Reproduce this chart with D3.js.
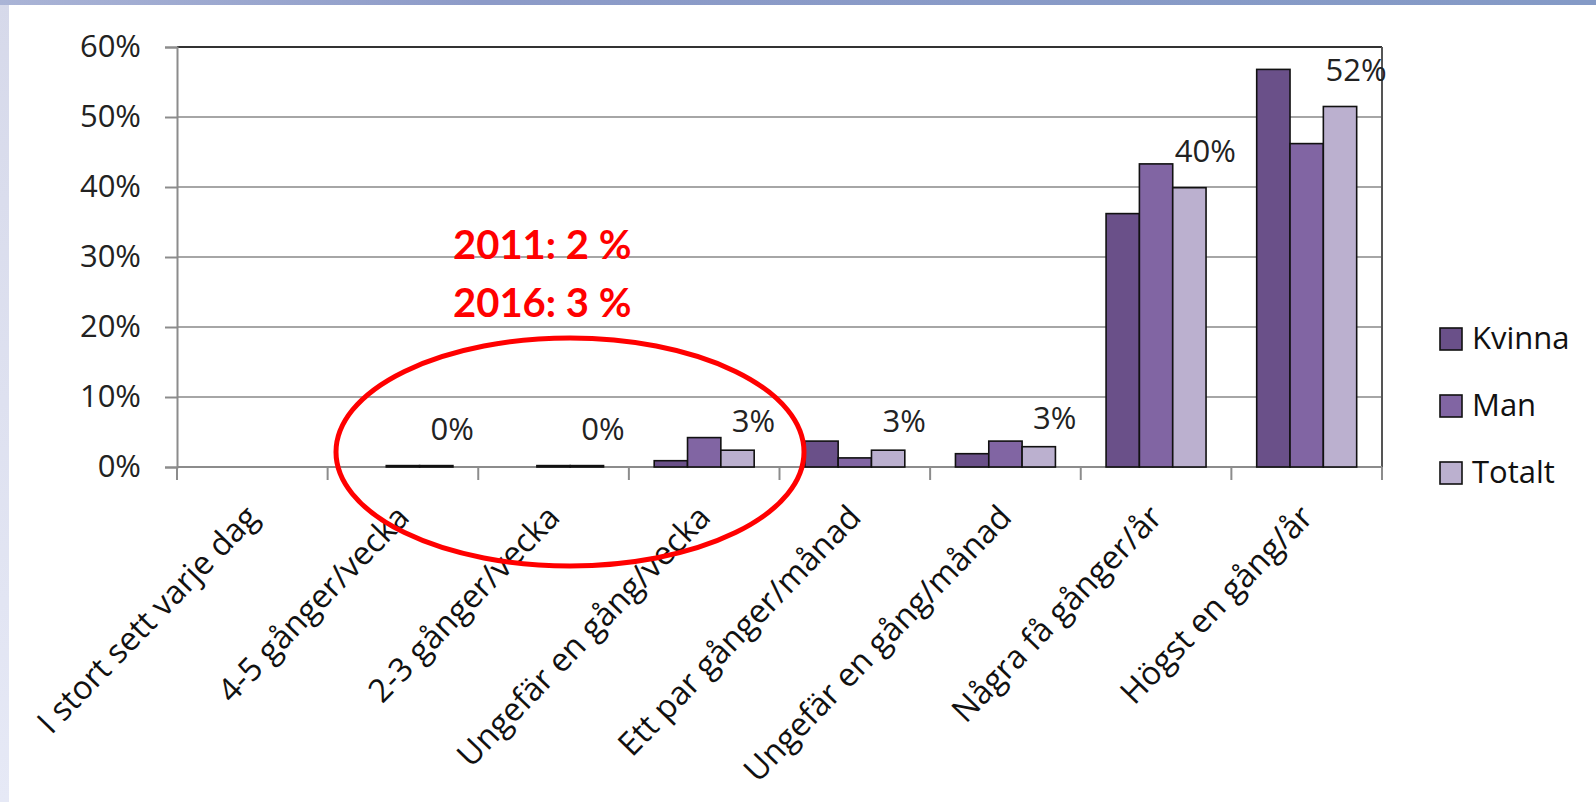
<!DOCTYPE html>
<html>
<head>
<meta charset="utf-8">
<script src="https://cdn.jsdelivr.net/npm/d3@7"></script>
<style>
  body { margin: 0; background: #fff; }
  svg { display: block; }
</style>
</head>
<body>
<svg></svg>
<script>
var categories = ["I stort sett varje dag", "4-5 gånger/vecka", "2-3 gånger/vecka",
                  "Ungefär en gång/vecka", "Ett par gånger/månad", "Ungefär en gång/månad",
                  "Några få gånger/år", "Högst en gång/år"];
var seriesNames = ["Kvinna", "Man", "Totalt"];
var kvinna = [0, 0, 0, 0.9, 3.7, 1.9, 36.2, 56.8];
var man    = [0, 0.2, 0.2, 4.2, 1.3, 3.7, 43.3, 46.2];
var totalt = [0, 0.2, 0.2, 2.4, 2.4, 2.9, 39.9, 51.5];
var totalLabels = ["", "0%", "0%", "3%", "3%", "3%", "40%", "52%"];
var yTicks = [0, 10, 20, 30, 40, 50, 60];
var notes = ["2011: 2 %", "2016: 3 %"];

var colors = ["#6a5089", "#8165a3", "#bbb0cf"];
var font = "'Open Sans', sans-serif";

var w = 1596, h = 802;
var plotL = 177, plotR = 1382, plotT = 47, plotB = 467;

var svg = d3.select("svg").attr("width", w).attr("height", h);

// slide background bits
var defs = svg.append("defs");
var g1 = defs.append("linearGradient").attr("id", "topbar");
g1.append("stop").attr("offset", "0").attr("stop-color", "#aab4d6");
g1.append("stop").attr("offset", "0.3").attr("stop-color", "#8d9bc8");
g1.append("stop").attr("offset", "1").attr("stop-color", "#849ac6");
var g2 = defs.append("linearGradient").attr("id", "leftbar")
    .attr("x1", 0).attr("y1", 0).attr("x2", 0).attr("y2", 1);
g2.append("stop").attr("offset", "0").attr("stop-color", "#d6d9ea");
g2.append("stop").attr("offset", "1").attr("stop-color", "#e6e9f6");

svg.append("rect").attr("width", w).attr("height", h).attr("fill", "#fff");
svg.append("rect").attr("x", 0).attr("y", 0).attr("width", 9).attr("height", h).attr("fill", "url(#leftbar)");
svg.append("rect").attr("x", 0).attr("y", 0).attr("width", w).attr("height", 5).attr("fill", "url(#topbar)");

var data = categories.map(function(c, i) {
    return { cat: c, values: [kvinna[i], man[i], totalt[i]], label: totalLabels[i] };
});

var x = d3.scaleBand().domain(categories).range([plotL, plotR]);
var xs = d3.scaleBand().domain(seriesNames).range([0, x.bandwidth()]).paddingOuter(0.76);
var y = d3.scaleLinear().domain([0, 60]).range([plotB, plotT]);

// gridlines
svg.selectAll(".grid")
    .data(yTicks.slice(1, -1))
    .enter()
    .append("line")
    .attr("x1", plotL).attr("x2", plotR)
    .attr("y1", function(d) { return y(d); })
    .attr("y2", function(d) { return y(d); })
    .attr("stroke", "#a6a6a6")
    .attr("stroke-width", 2);

// frame top + right
svg.append("line").attr("x1", plotL).attr("x2", plotR).attr("y1", plotT).attr("y2", plotT)
    .attr("stroke", "#333").attr("stroke-width", 2);
svg.append("line").attr("x1", plotR).attr("x2", plotR).attr("y1", plotT).attr("y2", plotB)
    .attr("stroke", "#555").attr("stroke-width", 2);

// y axis
var yAxis = svg.append("g")
    .attr("transform", "translate(" + plotL + ",0)")
    .call(d3.axisLeft(y).tickValues(yTicks).tickSize(12).tickPadding(24)
        .tickFormat(function(d) { return d + "%"; }));
yAxis.select(".domain").attr("stroke", "#8c8c8c").attr("stroke-width", 2);
yAxis.selectAll(".tick line").attr("stroke", "#8c8c8c").attr("stroke-width", 2);
yAxis.selectAll("text").attr("font-family", font).attr("font-size", "31px").attr("fill", "#222");

// x axis line + ticks between groups
svg.append("line").attr("x1", plotL).attr("x2", plotR).attr("y1", plotB).attr("y2", plotB)
    .attr("stroke", "#8c8c8c").attr("stroke-width", 2);
svg.selectAll(".xtick")
    .data(categories.concat(["end"]))
    .enter()
    .append("line")
    .attr("x1", function(d, i) { return plotL + i * x.step(); })
    .attr("x2", function(d, i) { return plotL + i * x.step(); })
    .attr("y1", plotB).attr("y2", plotB + 13)
    .attr("stroke", "#8c8c8c").attr("stroke-width", 2);

// bars
var groups = svg.selectAll(".grp")
    .data(data)
    .enter()
    .append("g")
    .attr("transform", function(d) { return "translate(" + x(d.cat) + ",0)"; });

groups.selectAll("rect")
    .data(function(d) {
        return d.values.map(function(v, i) { return { s: seriesNames[i], v: v, i: i }; })
            .filter(function(e) { return e.v > 0; });
    })
    .enter()
    .append("rect")
    .attr("x", function(d) { return xs(d.s); })
    .attr("y", function(d) { return y(d.v); })
    .attr("width", xs.bandwidth())
    .attr("height", function(d) { return plotB - y(d.v); })
    .attr("fill", function(d) { return colors[d.i]; })
    .attr("stroke", "#111")
    .attr("stroke-width", 1.6);

// total labels
groups.append("text")
    .text(function(d) { return d.label; })
    .attr("x", xs("Totalt") + xs.bandwidth() / 2 + 16)
    .attr("y", function(d) { return y(d.values[2]) - (d.values[2] > 1 && d.values[2] < 10 ? 18 : 26); })
    .attr("text-anchor", "middle")
    .attr("font-family", font)
    .attr("font-size", "31px")
    .attr("fill", "#222");

// category labels
svg.selectAll(".xlab")
    .data(categories)
    .enter()
    .append("text")
    .text(function(d) { return d; })
    .attr("transform", function(d) {
        return "translate(" + (x(d) + x.bandwidth() / 2 + 8) + "," + (plotB + 52) + ") rotate(-46)";
    })
    .attr("text-anchor", "end")
    .attr("font-family", font)
    .attr("font-size", "32.5px")
    .attr("fill", "#111");

// legend
var legend = svg.selectAll(".leg")
    .data(seriesNames)
    .enter()
    .append("g")
    .attr("transform", function(d, i) { return "translate(1440," + (328 + i * 67) + ")"; });
legend.append("rect")
    .attr("width", 22).attr("height", 22)
    .attr("fill", function(d, i) { return colors[i]; })
    .attr("stroke", "#111").attr("stroke-width", 1.6);
legend.append("text")
    .text(function(d) { return d; })
    .attr("x", 32).attr("y", 21)
    .attr("font-family", font)
    .attr("font-size", "31px")
    .attr("fill", "#111");

// red annotation
svg.append("ellipse")
    .attr("cx", 570).attr("cy", 452).attr("rx", 234).attr("ry", 114)
    .attr("fill", "none").attr("stroke", "#ff0000").attr("stroke-width", 5);
svg.selectAll(".note")
    .data(notes)
    .enter()
    .append("text")
    .text(function(d) { return d; })
    .attr("x", 453)
    .attr("y", function(d, i) { return 259 + i * 58; })
    .attr("font-family", "Lato, sans-serif")
    .attr("font-weight", "bold")
    .attr("font-size", "40px")
    .attr("fill", "#ff0000");
</script>
</body>
</html>
